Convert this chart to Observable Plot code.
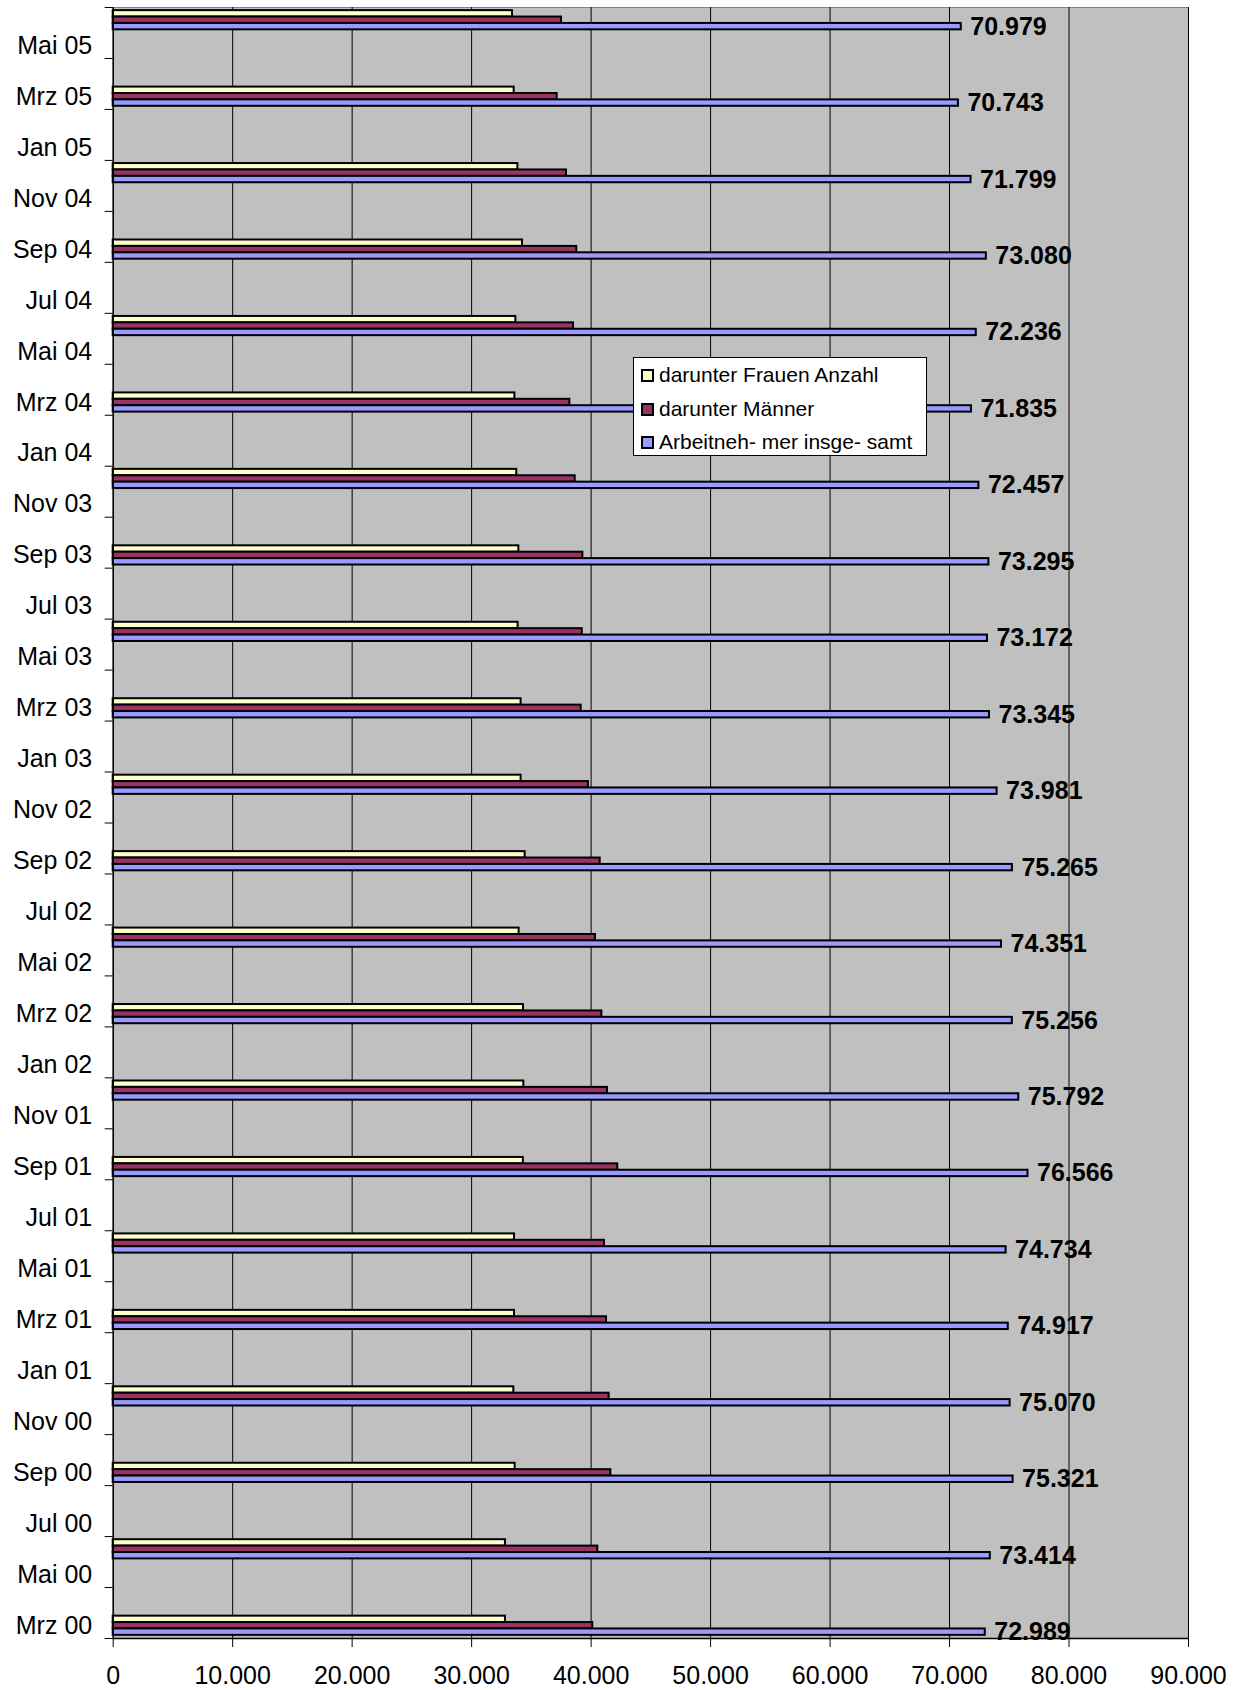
<!DOCTYPE html>
<html>
<head>
<meta charset="utf-8">
<script src="https://cdn.jsdelivr.net/npm/d3@7"></script>
<script src="https://cdn.jsdelivr.net/npm/@observablehq/plot@0.6"></script>
<style>
  html, body { margin: 0; padding: 0; background: #fff; }
  #wrap { position: relative; width: 1239px; height: 1690px; font-family: "Liberation Sans", Arial, sans-serif; }
  #legend { position: absolute; left: 633px; top: 357px; width: 294px; height: 99px; background: #fff; border: 1px solid #000; box-sizing: border-box; }
  .row { position: absolute; left: 7px; height: 24px; display: flex; align-items: center; font-size: 21px; color: #000; white-space: nowrap; }
  .sw { width: 13px; height: 13px; border: 2px solid #000; box-sizing: border-box; margin-right: 5px; }
</style>
</head>
<body>
<div id="wrap"></div>
<script>
// ---- Data ----
const monthNames = ["Jan","Feb","Mrz","Apr","Mai","Jun","Jul","Aug","Sep","Okt","Nov","Dez"];
const quarters = ["Mrz 00","Jun 00","Sep 00","Dez 00","Mrz 01","Jun 01","Sep 01","Dez 01","Mrz 02","Jun 02","Sep 02","Dez 02","Mrz 03","Jun 03","Sep 03","Dez 03","Mrz 04","Jun 04","Sep 04","Dez 04","Mrz 05","Jun 05"];
const frauen = [32830,32830,33640,33530,33590,33590,34330,34370,34340,33975,34480,34140,34140,33890,33950,33780,33620,33700,34260,33870,33560,33420];
const maenner = [40140,40560,41650,41510,41290,41120,42230,41370,40900,40370,40760,39780,39170,39260,39310,38670,38220,38530,38800,37940,37160,37520];
const insgesamt = [72989,73414,75321,75070,74917,74734,76566,75792,75256,74351,75265,73981,73345,73172,73295,72457,71835,72236,73080,71799,70743,70979];
const seriesNames = ["darunter Frauen Anzahl","darunter Männer","Arbeitneh- mer insge- samt"];
const seriesColors = ["#FFFFCC","#993366","#9999FF"];
const yTickLabels = ["Mrz 00","Mai 00","Jul 00","Sep 00","Nov 00","Jan 01","Mrz 01","Mai 01","Jul 01","Sep 01","Nov 01","Jan 02","Mrz 02","Mai 02","Jul 02","Sep 02","Nov 02","Jan 03","Mrz 03","Mai 03","Jul 03","Sep 03","Nov 03","Jan 04","Mrz 04","Mai 04","Jul 04","Sep 04","Nov 04","Jan 05","Mrz 05","Mai 05"];
const xTicks = [0,10000,20000,30000,40000,50000,60000,70000,80000,90000];
const lastMonth = "Jun 05";

// ---- Helpers ----
const de = d3.formatLocale({decimal: ",", thousands: ".", grouping: [3], currency: ["", "€"]});
const fmt = de.format(",d");
const monthIndex = s => { const [m, y] = s.split(" "); return (+y) * 12 + monthNames.indexOf(m) - 2; };

const rows = quarters.flatMap((q, i) => [frauen[i], maenner[i], insgesamt[i]].map((v, k) => ({q, idx: monthIndex(q), k, series: seriesNames[k], value: v})));
const totals = rows.filter(d => d.k === 2);

const BAR = 0.251; // bar thickness in months
const yLabelPos = yTickLabels.map(monthIndex);
const labelOf = new Map(yTickLabels.map(s => [monthIndex(s), s]));
const yBoundaries = yLabelPos.map(i => i - 0.5).concat([monthIndex(lastMonth) + 0.5]);
const yMin = monthIndex(quarters[0]) - 0.5;
const yMax = monthIndex(lastMonth) + 0.5;

const chart = Plot.plot({
  width: 1239,
  height: 1690,
  marginLeft: 112.7,
  marginRight: 51,
  marginTop: 7,
  marginBottom: 52,
  style: {fontFamily: "'Liberation Sans', Arial, sans-serif", fontSize: "25px", background: "transparent", color: "#000"},
  x: {domain: [0, 90000]},
  y: {domain: [yMin, yMax]},
  color: {domain: seriesNames, range: seriesColors},
  marks: [
    Plot.frame({fill: "#C0C0C0", stroke: "#808080"}),
    Plot.ruleX(xTicks.slice(1), {stroke: "#000", strokeWidth: 1}),
    Plot.rectX(rows, {
      x1: 0, x2: "value",
      y1: d => d.idx + (1 - d.k) * BAR - BAR / 2,
      y2: d => d.idx + (1 - d.k) * BAR + BAR / 2,
      fill: "series", stroke: "#000", strokeWidth: 2
    }),
    Plot.ruleX([0], {stroke: "#000", strokeWidth: 1.5}),
    Plot.ruleY([yMin], {stroke: "#000", strokeWidth: 1.5}),
    Plot.axisX({ticks: xTicks, tickFormat: fmt, tickSize: 9, tickPadding: 19, fontSize: 25, label: null, stroke: "#000"}),
    Plot.axisY({ticks: yLabelPos, tickFormat: i => labelOf.get(i), tickSize: 0, tickPadding: 21, fontSize: 25, label: null}),
    Plot.axisY({ticks: yBoundaries, tickFormat: () => "", tickSize: 8, label: null, stroke: "#000"}),
    Plot.text(totals, {
      x: "value", y: d => d.idx - BAR, text: d => fmt(d.value),
      textAnchor: "start", dx: 9, fontWeight: "bold", fontSize: 25, fill: "#000"
    })
  ]
});

const wrap = document.getElementById("wrap");
wrap.appendChild(chart);

// Legend (overlay, like the Excel legend box inside the plot)
const legend = document.createElement("div");
legend.id = "legend";
const rowTops = [5, 39, 72];
seriesNames.forEach((name, k) => {
  const r = document.createElement("div");
  r.className = "row";
  r.style.top = rowTops[k] + "px";
  const sw = document.createElement("span");
  sw.className = "sw";
  sw.style.background = seriesColors[k];
  const t = document.createElement("span");
  t.textContent = name;
  r.appendChild(sw);
  r.appendChild(t);
  legend.appendChild(r);
});
wrap.appendChild(legend);
</script>
</body>
</html>
